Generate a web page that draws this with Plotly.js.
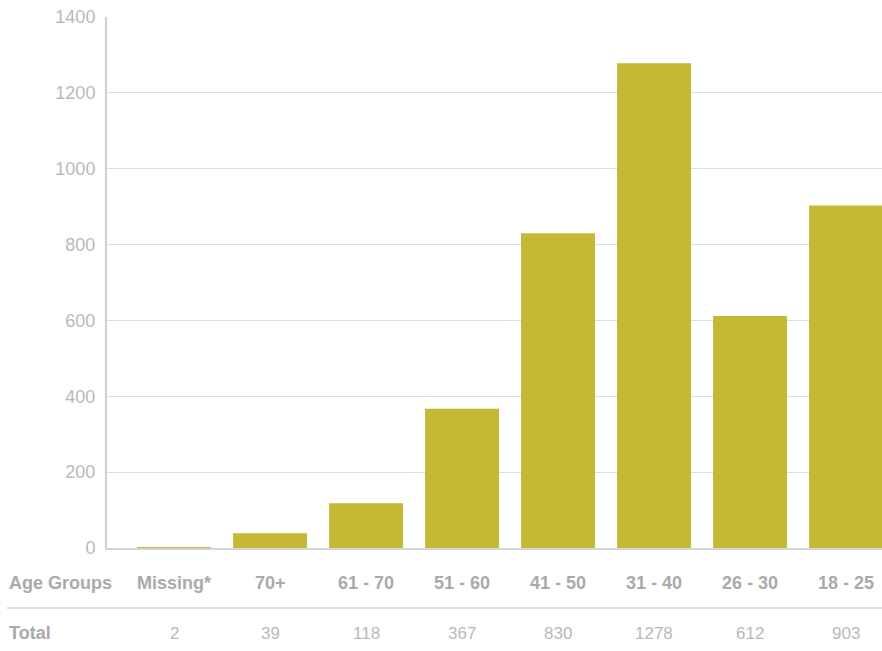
<!DOCTYPE html>
<html>
<head>
<meta charset="utf-8">
<script src="https://cdn.plot.ly/plotly-3.0.1.min.js"></script>
<style>
  html, body { margin: 0; padding: 0; background: #fff; overflow: hidden; }
  #chart { width: 882px; height: 651px; }
</style>
</head>
<body>
<div id="chart"></div>
<script>
// Respondents by age group
const ageGroups = ["Missing*", "70+", "61 - 70", "51 - 60", "41 - 50", "31 - 40", "26 - 30", "18 - 25"];
const totals = [2, 39, 118, 367, 830, 1278, 612, 903];
const yTicks = [0, 200, 400, 600, 800, 1000, 1200, 1400];

const BAR = "#c5b834";
const LABEL = "#aaaaaa";
const LIGHT = "#b9b9b9";
const FONT = "Liberation Sans, Arial, Helvetica, sans-serif";

const plotLeft = 107, plotWidth = 882 - 107;
const rowX = -(plotLeft - 7) / plotWidth; // left edge of the row headers

const annotations = [];
ageGroups.forEach((g, i) => {
  annotations.push({
    x: g, xref: "x", y: 0, yref: "paper", yanchor: "middle", yshift: -35,
    text: "<b>" + g + "</b>", showarrow: false,
    font: { family: FONT, size: 18, color: LABEL }
  });
  annotations.push({
    x: g, xref: "x", y: 0, yref: "paper", yanchor: "middle", yshift: -85,
    text: String(totals[i]), showarrow: false,
    font: { family: FONT, size: 17, color: LIGHT }
  });
});
annotations.push({
  x: rowX, xref: "paper", xanchor: "left", y: 0, yref: "paper", yanchor: "middle", yshift: -35,
  text: "<b>Age Groups</b>", showarrow: false,
  font: { family: FONT, size: 18, color: LABEL }
});
annotations.push({
  x: rowX, xref: "paper", xanchor: "left", y: 0, yref: "paper", yanchor: "middle", yshift: -85,
  text: "<b>Total</b>", showarrow: false,
  font: { family: FONT, size: 18, color: LABEL }
});

const trace = {
  type: "bar",
  x: ageGroups,
  y: totals,
  marker: { color: BAR },
  hoverinfo: "x+y"
};

const layout = {
  width: 882, height: 651,
  margin: { l: plotLeft, r: 0, t: 17, b: 103 },
  paper_bgcolor: "#fff", plot_bgcolor: "#fff",
  showlegend: false,
  bargap: 0.23,
  font: { family: FONT },
  xaxis: {
    type: "category",
    range: [-0.698, 7.375],
    showticklabels: false,
    showgrid: false, zeroline: false,
    showline: true, linecolor: "#d4d4d4", linewidth: 2,
    fixedrange: true
  },
  yaxis: {
    range: [0, 1400],
    tickvals: yTicks,
    ticktext: yTicks.map(String),
    tickfont: { family: FONT, size: 18, color: LIGHT },
    ticklabelstandoff: 6,
    showgrid: true, gridcolor: "#dedede", gridwidth: 1,
    zeroline: false,
    showline: true, linecolor: "#d0d0d0", linewidth: 2,
    fixedrange: true
  },
  shapes: [{
    // separator between the group row and the totals row, 60px under the axis
    type: "line", xref: "paper", yref: "paper",
    ysizemode: "pixel", yanchor: 0,
    x0: rowX, x1: 1, y0: -60, y1: -60,
    line: { color: "#dddddd", width: 2 }
  }],
  annotations: annotations
};

Plotly.newPlot("chart", [trace], layout, { displayModeBar: false });
</script>
</body>
</html>
